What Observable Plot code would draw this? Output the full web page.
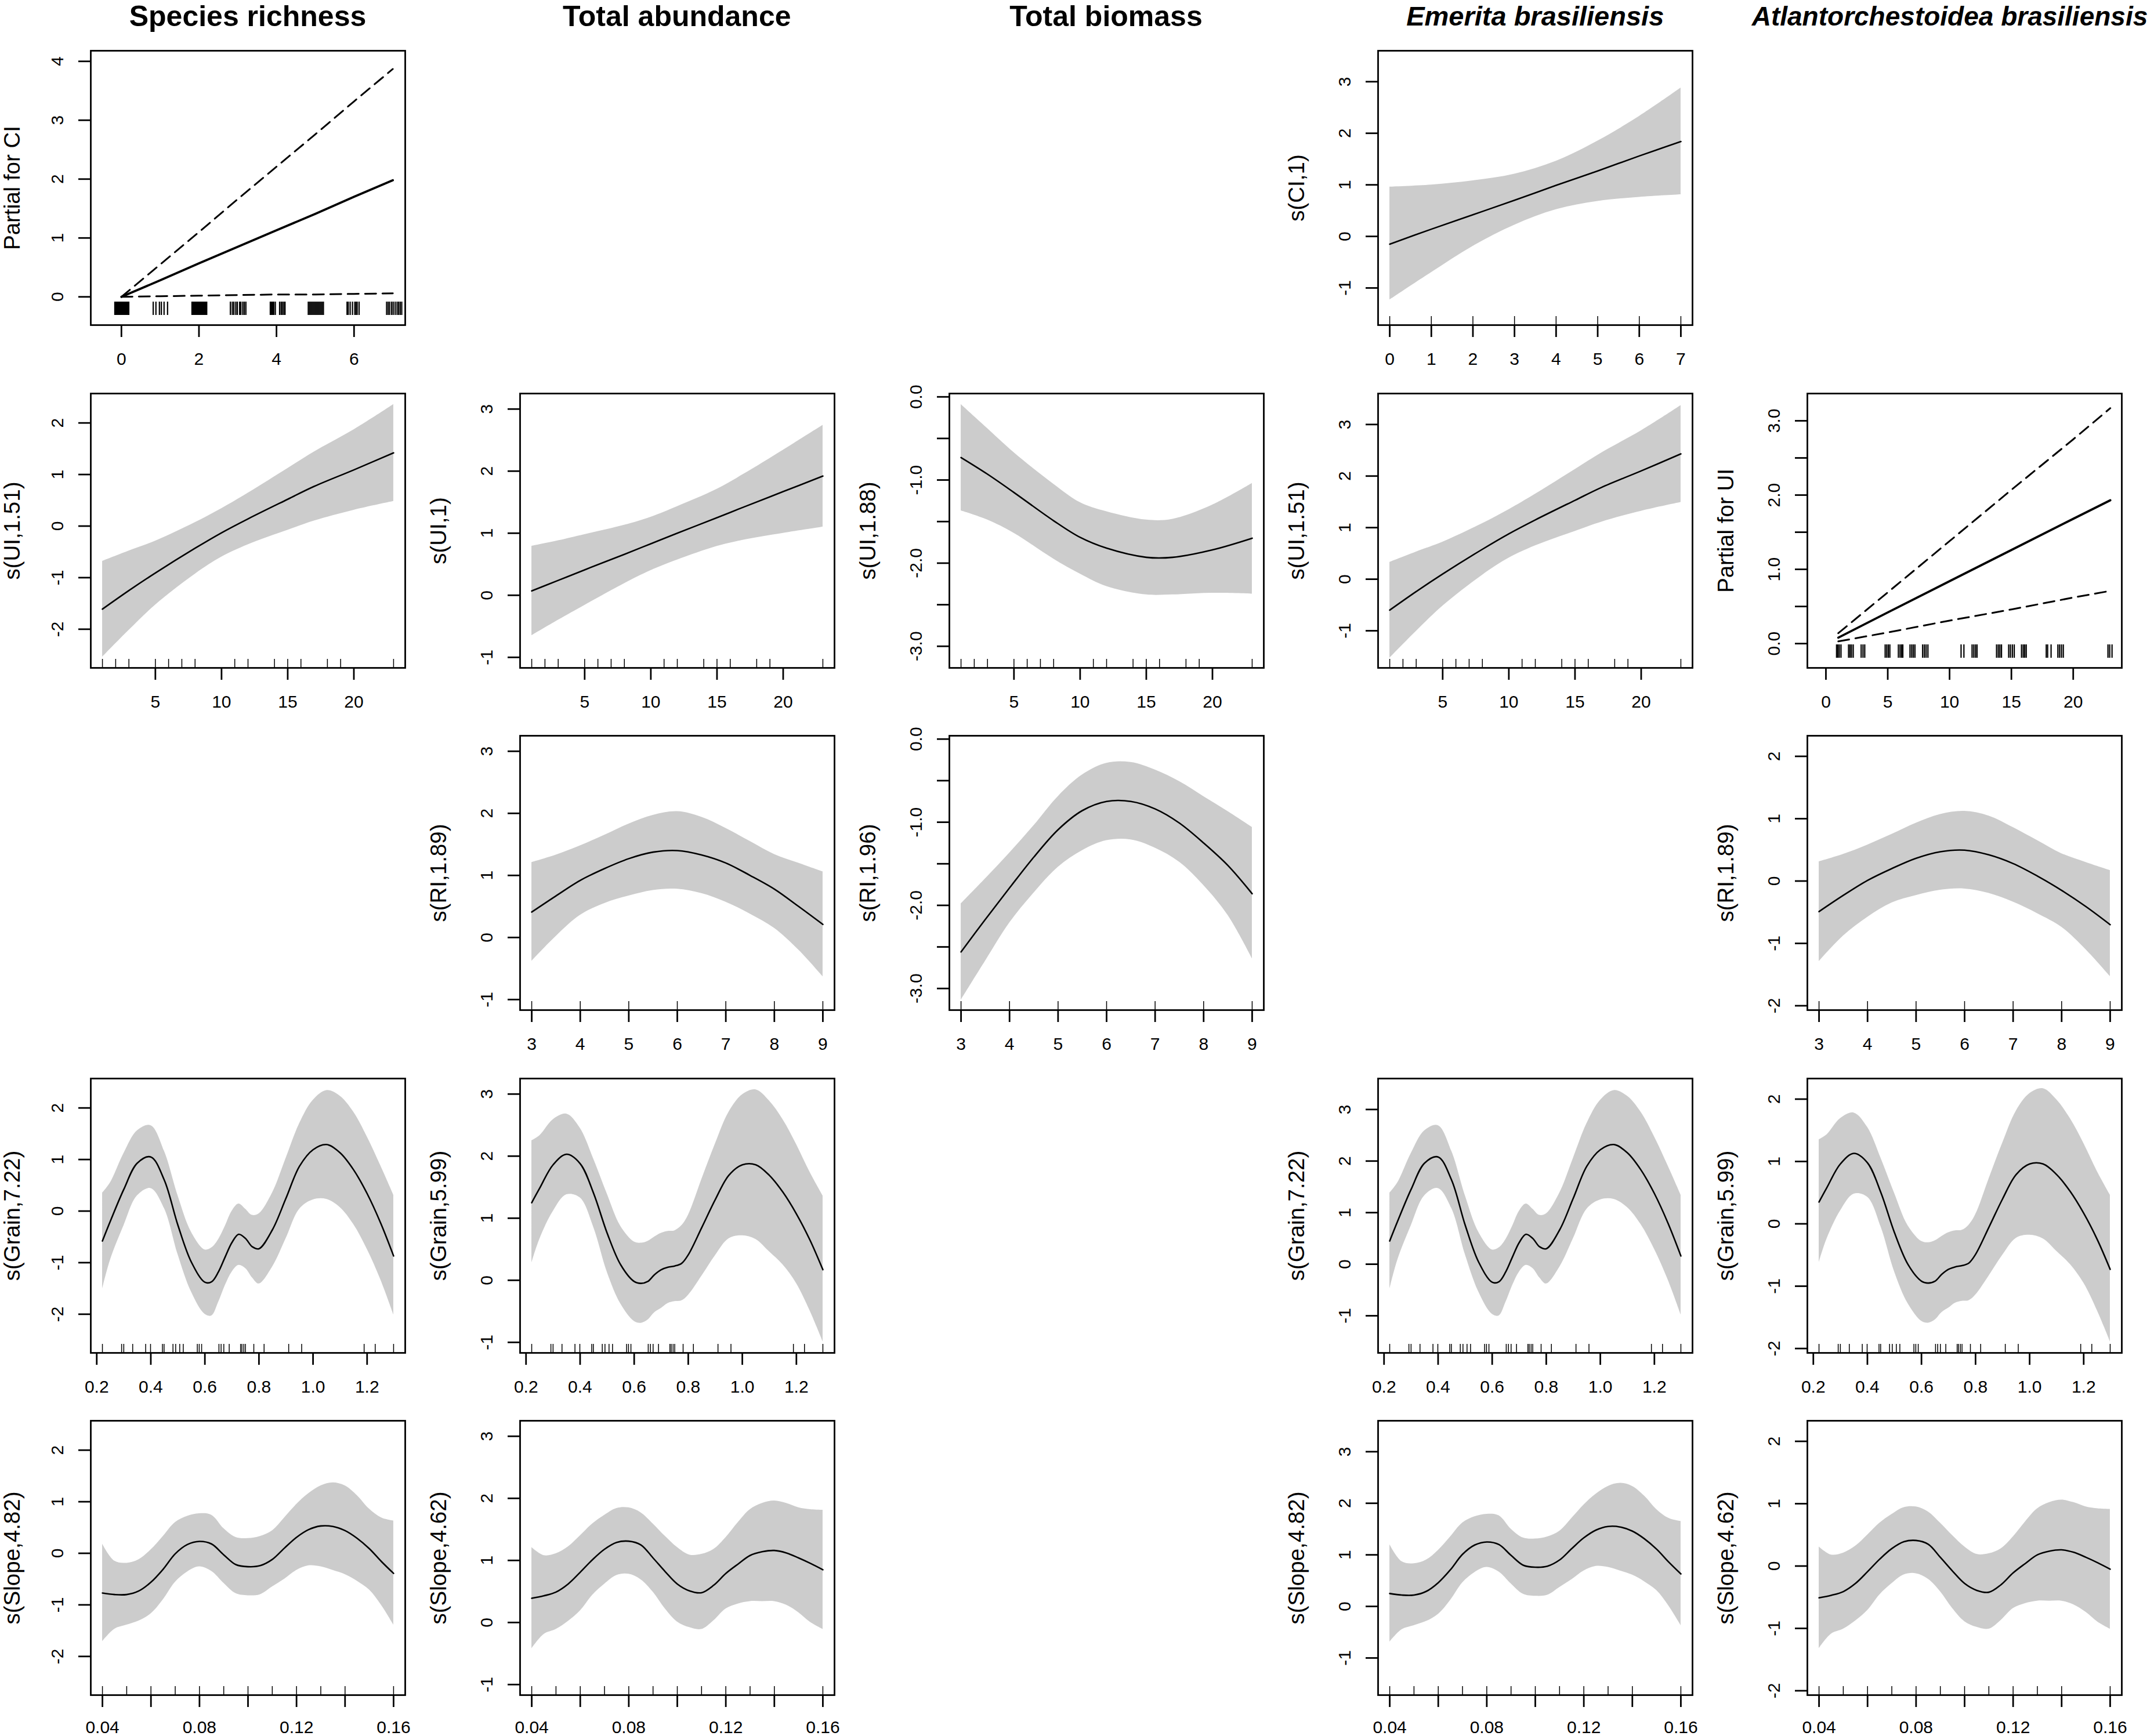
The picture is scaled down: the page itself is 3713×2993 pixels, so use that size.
<!DOCTYPE html>
<html>
<head>
<meta charset="utf-8">
<script src="https://cdn.jsdelivr.net/npm/d3@7"></script>
<script src="https://cdn.jsdelivr.net/npm/@observablehq/plot@0.6"></script>
<style>
html, body { margin: 0; padding: 0; background: #fff; }
#page { position: relative; width: 3713px; height: 2993px; overflow: hidden; background: #fff;
        font-family: "Liberation Sans", Arial, sans-serif; color: #000; }
.title { position: absolute; top: 3px; width: 800px; text-align: center; font-weight: bold;
         font-size: 50px; line-height: 50px; white-space: nowrap; }
.title.it { font-style: italic; font-size: 47px; line-height: 50px; }
.title.it.long { font-size: 46px; }
.panel { position: absolute; width: 740px; height: 660px; }
.panel svg { max-width: none !important; }
</style>
</head>
<body>
<div id="page"></div>
<script>
// ---------------- column titles ----------------
const columnTitles = ["Species richness", "Total abundance", "Total biomass", "Emerita brasiliensis", "Atlantorchestoidea brasiliensis"];
const columnItalic = [false, false, false, true, true];

// ---------------- x grids ----------------
const ciGrid = [0, 1, 2, 3, 4, 5, 6, 7];
const uiGrid = [1, 3, 5, 8, 10, 12, 15, 17, 20, 23];
const uiTermGrid = [1, 5, 10, 15, 20, 23];
const riGrid = [3, 3.5, 4, 4.5, 5, 5.5, 6, 6.5, 7, 7.5, 8, 8.5, 9];
const grainGrid = [0.221, 0.25, 0.3, 0.35, 0.4, 0.45, 0.5, 0.55, 0.6, 0.625, 0.65, 0.675, 0.7, 0.725, 0.75, 0.775, 0.8, 0.85, 0.9, 0.95, 1.0, 1.05, 1.1, 1.15, 1.2, 1.25, 1.298];
const slopeGrid = [0.04, 0.045, 0.05, 0.055, 0.06, 0.065, 0.07, 0.075, 0.08, 0.085, 0.09, 0.095, 0.1, 0.105, 0.11, 0.115, 0.12, 0.125, 0.13, 0.135, 0.14, 0.145, 0.15, 0.155, 0.16];

// ---------------- rugs ----------------
const uiRug = [1, 2, 3, 5, 6, 7, 8, 11, 12, 14, 15, 16, 18, 19, 23];
const riRug = [3, 4, 5, 6, 7, 8, 9];
const ciRug = [0, 1, 2, 3, 4, 5, 6, 7];
const grainRug = [0.221, 0.292, 0.300, 0.333, 0.381, 0.399, 0.443, 0.449, 0.482, 0.492, 0.507, 0.520, 0.572, 0.579, 0.588, 0.652, 0.660, 0.670, 0.690, 0.732, 0.737, 0.744, 0.750, 0.781, 0.819, 0.910, 0.958, 1.189, 1.230, 1.298];
const slopeRug = [0.04, 0.05, 0.06, 0.07, 0.08, 0.09, 0.10, 0.11, 0.12, 0.13, 0.14, 0.16];
// jittered rugs of the linear (termplot) panels
const richCIRug = [-0.17, -0.14, -0.11, -0.08, -0.05, -0.02, 0.01, 0.04, 0.07, 0.10, 0.13, 0.16, 0.19,
  0.82, 0.89, 0.98, 1.03, 1.10, 1.19,
  1.82, 1.85, 1.88, 1.91, 1.94, 1.97, 2.00, 2.03, 2.06, 2.09, 2.12, 2.15, 2.18, 2.20,
  2.81, 2.86, 2.90, 2.95, 2.99, 3.05, 3.08, 3.13, 3.17, 3.21,
  3.84, 3.87, 3.90, 3.93, 3.97, 4.08, 4.12, 4.15, 4.19, 4.22,
  4.82, 4.85, 4.88, 4.91, 4.94, 4.97, 5.00, 5.03, 5.06, 5.09, 5.12, 5.15, 5.18, 5.21,
  5.82, 5.85, 5.90, 5.96, 6.02, 6.05, 6.08, 6.13,
  6.84, 6.88, 6.92, 6.97, 7.01, 7.06, 7.11, 7.15, 7.19, 7.23];
const atlUIRug = [0.86, 0.97, 1.08, 1.22, 1.83, 1.95, 2.07, 2.21, 2.85, 3.0, 3.14,
  4.79, 4.92, 5.05, 5.17, 5.86, 6.0, 6.12, 6.22, 6.8, 6.94, 7.07, 7.2, 7.82, 7.96, 8.1, 8.25,
  10.93, 11.16, 11.82, 11.96, 12.1, 12.22, 13.8, 13.94, 14.07, 14.2, 14.78, 14.92, 15.08, 15.23,
  15.82, 15.96, 16.08, 16.2, 17.82, 17.93, 18.21, 18.76, 18.9, 19.05, 19.2, 22.81, 22.95, 23.14];

// ---------------- x / y scales ----------------
const ciTermXDomain = [-0.79, 7.32];
const ciXDomain = [-0.28, 7.28];
const uiXDomain = [0.12, 23.88];
const uiTermXDomain = [-1.5, 23.93];
const riXDomain = [2.76, 9.24];
const grainXDomain = [0.178, 1.341];
const slopeXDomain = [0.0352, 0.1648];

const richYDomain = [-2.75, 2.57];
const richTermYDomain = [-0.48, 4.18];
const abunYDomain = [-1.17, 3.25];
const bioYDomain = [-3.26, 0.04];
const emeYDomain = [-1.72, 3.60];
const atlTermYDomain = [-0.327, 3.367];
const atlYDomain = [-2.07, 2.33];

// ---------------- tick values ----------------
const ciTermTicks = [0, 2, 4, 6];
const ciTicks = [0, 1, 2, 3, 4, 5, 6, 7];
const uiTicks = [5, 10, 15, 20];
const uiTermTicks = [0, 5, 10, 15, 20];
const riTicks = [3, 4, 5, 6, 7, 8, 9];
const grainTicks = [0.2, 0.4, 0.6, 0.8, 1.0, 1.2];
const slopeTicks = [0.04, 0.06, 0.08, 0.10, 0.12, 0.14, 0.16];
const slopeLabelled = [0.04, 0.08, 0.12, 0.16];
const yTicks2 = [-2, -1, 0, 1, 2];
const yTicks3 = [-1, 0, 1, 2, 3];
const yTicks04 = [0, 1, 2, 3, 4];
const bioYTicks = [-3, -2.5, -2, -1.5, -1, -0.5, 0];
const atlTermYTicks = [0, 0.5, 1, 1.5, 2, 2.5, 3];

// ---------------- Species richness ----------------
const richCIFit = [0, 0.28, 0.57, 0.85, 1.13, 1.41, 1.70, 1.98];
const richCIUpper = [0, 0.55, 1.10, 1.66, 2.21, 2.76, 3.32, 3.87];
const richCILower = [0, 0.01, 0.02, 0.03, 0.04, 0.04, 0.05, 0.06];

const richUIFit = [-1.61, -1.25, -0.91, -0.43, -0.13, 0.14, 0.52, 0.77, 1.09, 1.42];
const richUIHi = [-0.68, -0.48, -0.29, 0.07, 0.34, 0.64, 1.12, 1.44, 1.87, 2.36];
const richUILo = [-2.54, -2.02, -1.53, -0.93, -0.60, -0.36, -0.08, 0.10, 0.31, 0.48];

const richGrainFit = [-0.58, -0.20, 0.42, 0.93, 1.05, 0.60, -0.27, -0.99, -1.38, -1.37, -1.18, -0.89, -0.61, -0.45, -0.53, -0.69, -0.73, -0.36, 0.25, 0.87, 1.19, 1.29, 1.13, 0.80, 0.34, -0.23, -0.87];
const richGrainHi = [0.35, 0.55, 1.12, 1.56, 1.66, 1.16, 0.30, -0.41, -0.75, -0.71, -0.55, -0.29, 0.00, 0.14, 0.04, -0.08, -0.05, 0.36, 1.03, 1.70, 2.15, 2.34, 2.23, 1.92, 1.44, 0.88, 0.31];
const richGrainLo = [-1.51, -0.95, -0.28, 0.30, 0.44, 0.05, -0.84, -1.57, -2.00, -2.03, -1.77, -1.44, -1.18, -1.05, -1.11, -1.29, -1.41, -1.08, -0.53, 0.04, 0.22, 0.23, 0.07, -0.26, -0.74, -1.33, -2.01];

const richSlopeFit = [-0.77, -0.80, -0.80, -0.73, -0.56, -0.31, -0.01, 0.17, 0.23, 0.18, -0.03, -0.22, -0.26, -0.24, -0.12, 0.10, 0.31, 0.46, 0.53, 0.52, 0.44, 0.29, 0.09, -0.16, -0.39];
const richSlopeHi = [0.18, -0.15, -0.19, -0.12, 0.07, 0.33, 0.60, 0.72, 0.77, 0.74, 0.48, 0.31, 0.29, 0.33, 0.44, 0.69, 0.95, 1.16, 1.31, 1.37, 1.31, 1.12, 0.86, 0.69, 0.63];
const richSlopeLo = [-1.71, -1.47, -1.39, -1.31, -1.17, -0.90, -0.56, -0.36, -0.26, -0.35, -0.58, -0.78, -0.82, -0.80, -0.65, -0.50, -0.33, -0.24, -0.26, -0.33, -0.41, -0.54, -0.71, -1.01, -1.39];

// ---------------- Total abundance ----------------
const abunUIFit = [0.07, 0.24, 0.41, 0.66, 0.83, 1.00, 1.25, 1.42, 1.67, 1.92];
const abunUIHi = [0.79, 0.88, 0.98, 1.13, 1.26, 1.43, 1.71, 1.95, 2.34, 2.74];
const abunUILo = [-0.65, -0.40, -0.16, 0.19, 0.40, 0.57, 0.79, 0.89, 1.00, 1.10];

const abunRIFit = [0.41, 0.67, 0.92, 1.11, 1.27, 1.375, 1.40, 1.33, 1.20, 1.00, 0.78, 0.50, 0.21];
const abunRIHi = [1.21, 1.33, 1.48, 1.65, 1.83, 1.97, 2.03, 1.94, 1.76, 1.55, 1.34, 1.20, 1.06];
const abunRILo = [-0.38, 0.02, 0.36, 0.55, 0.67, 0.76, 0.78, 0.71, 0.57, 0.38, 0.15, -0.20, -0.63];

const abunGrainFit = [1.25, 1.48, 1.86, 2.03, 1.88, 1.40, 0.76, 0.25, -0.02, -0.05, -0.02, 0.09, 0.17, 0.21, 0.23, 0.27, 0.41, 0.85, 1.30, 1.69, 1.86, 1.86, 1.69, 1.42, 1.07, 0.65, 0.17];
const abunGrainHi = [2.25, 2.33, 2.59, 2.68, 2.45, 1.95, 1.39, 0.87, 0.62, 0.60, 0.63, 0.70, 0.76, 0.79, 0.80, 0.88, 1.05, 1.63, 2.20, 2.71, 2.99, 3.07, 2.89, 2.59, 2.19, 1.74, 1.36];
const abunGrainLo = [0.28, 0.66, 1.11, 1.38, 1.33, 0.85, 0.13, -0.38, -0.66, -0.69, -0.64, -0.52, -0.45, -0.37, -0.34, -0.33, -0.24, 0.07, 0.40, 0.67, 0.72, 0.66, 0.46, 0.25, -0.05, -0.49, -0.99];

const abunSlopeFit = [0.39, 0.43, 0.49, 0.62, 0.81, 1.01, 1.18, 1.29, 1.31, 1.25, 1.04, 0.82, 0.62, 0.51, 0.48, 0.60, 0.79, 0.94, 1.08, 1.14, 1.16, 1.12, 1.04, 0.95, 0.85];
const abunSlopeHi = [1.21, 1.08, 1.11, 1.22, 1.40, 1.59, 1.73, 1.84, 1.85, 1.77, 1.59, 1.39, 1.21, 1.09, 1.10, 1.18, 1.37, 1.61, 1.82, 1.92, 1.96, 1.92, 1.85, 1.82, 1.81];
const abunSlopeLo = [-0.42, -0.19, -0.11, 0.02, 0.19, 0.44, 0.62, 0.76, 0.78, 0.69, 0.49, 0.22, 0.01, -0.08, -0.11, 0.03, 0.22, 0.30, 0.34, 0.34, 0.34, 0.28, 0.16, 0.00, -0.11];

// ---------------- Total biomass ----------------
const bioUIFit = [-0.73, -0.93, -1.15, -1.49, -1.69, -1.82, -1.93, -1.93, -1.84, -1.70];
const bioUIHi = [-0.09, -0.38, -0.67, -1.05, -1.27, -1.38, -1.48, -1.47, -1.30, -1.04];
const bioUILo = [-1.37, -1.48, -1.64, -1.95, -2.13, -2.28, -2.38, -2.38, -2.36, -2.37];

const bioRIFit = [-2.56, -2.17, -1.79, -1.42, -1.09, -0.86, -0.75, -0.75, -0.84, -1.01, -1.25, -1.52, -1.86];
const bioRIHi = [-1.98, -1.68, -1.37, -1.04, -0.69, -0.43, -0.29, -0.28, -0.37, -0.51, -0.69, -0.87, -1.06];
const bioRILo = [-3.14, -2.67, -2.21, -1.85, -1.54, -1.34, -1.22, -1.21, -1.31, -1.48, -1.76, -2.12, -2.64];

// ---------------- Emerita brasiliensis ----------------
const emeCIFit = [-0.15, 0.14, 0.42, 0.70, 0.99, 1.27, 1.56, 1.84];
const emeCIHi = [0.96, 1.00, 1.08, 1.21, 1.46, 1.85, 2.33, 2.88];
const emeCILo = [-1.23, -0.70, -0.19, 0.22, 0.52, 0.68, 0.76, 0.81];

const emeUIFit = [-0.60, -0.24, 0.10, 0.58, 0.88, 1.15, 1.53, 1.78, 2.10, 2.43];
const emeUIHi = [0.33, 0.53, 0.72, 1.08, 1.35, 1.65, 2.13, 2.45, 2.88, 3.37];
const emeUILo = [-1.53, -1.01, -0.52, 0.08, 0.41, 0.65, 0.93, 1.11, 1.32, 1.49];

const emeGrainFit = [0.45, 0.83, 1.45, 1.96, 2.08, 1.63, 0.76, 0.04, -0.35, -0.34, -0.15, 0.14, 0.42, 0.58, 0.50, 0.34, 0.30, 0.67, 1.28, 1.90, 2.22, 2.32, 2.16, 1.83, 1.37, 0.80, 0.16];
const emeGrainHi = [1.38, 1.58, 2.15, 2.59, 2.69, 2.19, 1.33, 0.62, 0.28, 0.32, 0.48, 0.74, 1.03, 1.17, 1.07, 0.95, 0.98, 1.39, 2.06, 2.73, 3.18, 3.37, 3.26, 2.95, 2.47, 1.91, 1.34];
const emeGrainLo = [-0.48, 0.08, 0.75, 1.33, 1.47, 1.08, 0.19, -0.54, -0.97, -1.00, -0.74, -0.41, -0.15, -0.02, -0.08, -0.26, -0.38, -0.05, 0.50, 1.07, 1.25, 1.26, 1.10, 0.77, 0.29, -0.30, -0.98];

const emeSlopeFit = [0.25, 0.22, 0.22, 0.29, 0.46, 0.71, 1.01, 1.19, 1.25, 1.20, 0.99, 0.80, 0.76, 0.78, 0.90, 1.12, 1.33, 1.48, 1.55, 1.54, 1.46, 1.31, 1.11, 0.86, 0.63];
const emeSlopeHi = [1.20, 0.87, 0.83, 0.90, 1.09, 1.35, 1.62, 1.74, 1.79, 1.76, 1.50, 1.33, 1.31, 1.35, 1.46, 1.71, 1.97, 2.18, 2.33, 2.39, 2.33, 2.14, 1.88, 1.71, 1.65];
const emeSlopeLo = [-0.69, -0.45, -0.37, -0.29, -0.15, 0.12, 0.46, 0.66, 0.76, 0.67, 0.44, 0.24, 0.20, 0.22, 0.37, 0.52, 0.69, 0.78, 0.76, 0.69, 0.61, 0.48, 0.31, 0.01, -0.37];

// ---------------- Atlantorchestoidea brasiliensis ----------------
const atlUIFit = [0.08, 0.42, 0.84, 1.26, 1.68, 1.93];
const atlUIUpper = [0.14, 0.69, 1.38, 2.07, 2.75, 3.17];
const atlUILower = [0.03, 0.15, 0.31, 0.46, 0.62, 0.71];

const atlRIFit = [-0.49, -0.23, 0.01, 0.20, 0.365, 0.47, 0.495, 0.42, 0.28, 0.08, -0.15, -0.41, -0.70];
const atlRIHi = [0.31, 0.43, 0.58, 0.75, 0.93, 1.07, 1.12, 1.045, 0.86, 0.65, 0.44, 0.30, 0.17];
const atlRILo = [-1.29, -0.88, -0.58, -0.35, -0.23, -0.145, -0.125, -0.195, -0.335, -0.52, -0.74, -1.10, -1.53];

const atlGrainFit = [0.35, 0.58, 0.96, 1.13, 0.98, 0.50, -0.14, -0.65, -0.92, -0.95, -0.92, -0.81, -0.73, -0.69, -0.67, -0.63, -0.49, -0.05, 0.40, 0.79, 0.96, 0.96, 0.79, 0.52, 0.17, -0.25, -0.73];
const atlGrainHi = [1.35, 1.43, 1.69, 1.78, 1.55, 1.05, 0.49, -0.03, -0.28, -0.30, -0.27, -0.20, -0.14, -0.11, -0.10, -0.02, 0.15, 0.73, 1.30, 1.81, 2.09, 2.17, 1.99, 1.69, 1.29, 0.84, 0.46];
const atlGrainLo = [-0.62, -0.24, 0.21, 0.48, 0.43, -0.05, -0.77, -1.28, -1.56, -1.59, -1.54, -1.42, -1.35, -1.27, -1.24, -1.23, -1.14, -0.83, -0.50, -0.23, -0.18, -0.24, -0.44, -0.65, -0.95, -1.39, -1.89];

const atlSlopeFit = [-0.51, -0.47, -0.41, -0.28, -0.09, 0.11, 0.28, 0.39, 0.41, 0.35, 0.14, -0.08, -0.28, -0.39, -0.42, -0.30, -0.11, 0.04, 0.18, 0.24, 0.26, 0.22, 0.14, 0.05, -0.05];
const atlSlopeHi = [0.31, 0.18, 0.21, 0.32, 0.50, 0.69, 0.83, 0.94, 0.95, 0.87, 0.69, 0.49, 0.31, 0.19, 0.20, 0.28, 0.47, 0.71, 0.92, 1.02, 1.06, 1.02, 0.95, 0.92, 0.91];
const atlSlopeLo = [-1.32, -1.09, -1.01, -0.88, -0.71, -0.46, -0.28, -0.14, -0.12, -0.21, -0.41, -0.68, -0.89, -0.98, -1.01, -0.87, -0.68, -0.60, -0.56, -0.56, -0.56, -0.62, -0.74, -0.90, -1.01];

// ---------------- formats ----------------
const fmtInt = d => String(d);
const fmtOneDecimalInts = d => Number.isInteger(d) ? d.toFixed(1) : "";
const fmtGrain = d => d.toFixed(1);
const fmtSlope = d => slopeLabelled.some(v => Math.abs(v - d) < 1e-9) ? d.toFixed(2) : "";

// ---------------- panel list ----------------
const panels = [
  {c: 0, r: 0, kind: "term", ylab: "Partial for CI", xd: ciTermXDomain, yd: richTermYDomain, xt: ciTermTicks, xf: fmtInt, yt: yTicks04, yf: fmtInt, grid: ciGrid, fit: richCIFit, hi: richCIUpper, lo: richCILower, rug: richCIRug},
  {c: 0, r: 1, kind: "s", ylab: "s(UI,1.51)", xd: uiXDomain, yd: richYDomain, xt: uiTicks, xf: fmtInt, yt: yTicks2, yf: fmtInt, grid: uiGrid, fit: richUIFit, hi: richUIHi, lo: richUILo, rug: uiRug},
  {c: 0, r: 3, kind: "s", ylab: "s(Grain,7.22)", xd: grainXDomain, yd: richYDomain, xt: grainTicks, xf: fmtGrain, yt: yTicks2, yf: fmtInt, grid: grainGrid, fit: richGrainFit, hi: richGrainHi, lo: richGrainLo, rug: grainRug},
  {c: 0, r: 4, kind: "s", ylab: "s(Slope,4.82)", xd: slopeXDomain, yd: richYDomain, xt: slopeTicks, xf: fmtSlope, yt: yTicks2, yf: fmtInt, grid: slopeGrid, fit: richSlopeFit, hi: richSlopeHi, lo: richSlopeLo, rug: slopeRug},

  {c: 1, r: 1, kind: "s", ylab: "s(UI,1)", xd: uiXDomain, yd: abunYDomain, xt: uiTicks, xf: fmtInt, yt: yTicks3, yf: fmtInt, grid: uiGrid, fit: abunUIFit, hi: abunUIHi, lo: abunUILo, rug: uiRug},
  {c: 1, r: 2, kind: "s", ylab: "s(RI,1.89)", xd: riXDomain, yd: abunYDomain, xt: riTicks, xf: fmtInt, yt: yTicks3, yf: fmtInt, grid: riGrid, fit: abunRIFit, hi: abunRIHi, lo: abunRILo, rug: riRug},
  {c: 1, r: 3, kind: "s", ylab: "s(Grain,5.99)", xd: grainXDomain, yd: abunYDomain, xt: grainTicks, xf: fmtGrain, yt: yTicks3, yf: fmtInt, grid: grainGrid, fit: abunGrainFit, hi: abunGrainHi, lo: abunGrainLo, rug: grainRug},
  {c: 1, r: 4, kind: "s", ylab: "s(Slope,4.62)", xd: slopeXDomain, yd: abunYDomain, xt: slopeTicks, xf: fmtSlope, yt: yTicks3, yf: fmtInt, grid: slopeGrid, fit: abunSlopeFit, hi: abunSlopeHi, lo: abunSlopeLo, rug: slopeRug},

  {c: 2, r: 1, kind: "s", ylab: "s(UI,1.88)", xd: uiXDomain, yd: bioYDomain, xt: uiTicks, xf: fmtInt, yt: bioYTicks, yf: fmtOneDecimalInts, grid: uiGrid, fit: bioUIFit, hi: bioUIHi, lo: bioUILo, rug: uiRug},
  {c: 2, r: 2, kind: "s", ylab: "s(RI,1.96)", xd: riXDomain, yd: bioYDomain, xt: riTicks, xf: fmtInt, yt: bioYTicks, yf: fmtOneDecimalInts, grid: riGrid, fit: bioRIFit, hi: bioRIHi, lo: bioRILo, rug: riRug},

  {c: 3, r: 0, kind: "s", ylab: "s(CI,1)", xd: ciXDomain, yd: emeYDomain, xt: ciTicks, xf: fmtInt, yt: yTicks3, yf: fmtInt, grid: ciGrid, fit: emeCIFit, hi: emeCIHi, lo: emeCILo, rug: ciRug},
  {c: 3, r: 1, kind: "s", ylab: "s(UI,1.51)", xd: uiXDomain, yd: emeYDomain, xt: uiTicks, xf: fmtInt, yt: yTicks3, yf: fmtInt, grid: uiGrid, fit: emeUIFit, hi: emeUIHi, lo: emeUILo, rug: uiRug},
  {c: 3, r: 3, kind: "s", ylab: "s(Grain,7.22)", xd: grainXDomain, yd: emeYDomain, xt: grainTicks, xf: fmtGrain, yt: yTicks3, yf: fmtInt, grid: grainGrid, fit: emeGrainFit, hi: emeGrainHi, lo: emeGrainLo, rug: grainRug},
  {c: 3, r: 4, kind: "s", ylab: "s(Slope,4.82)", xd: slopeXDomain, yd: emeYDomain, xt: slopeTicks, xf: fmtSlope, yt: yTicks3, yf: fmtInt, grid: slopeGrid, fit: emeSlopeFit, hi: emeSlopeHi, lo: emeSlopeLo, rug: slopeRug},

  {c: 4, r: 1, kind: "term", ylab: "Partial for UI", xd: uiTermXDomain, yd: atlTermYDomain, xt: uiTermTicks, xf: fmtInt, yt: atlTermYTicks, yf: fmtOneDecimalInts, grid: uiTermGrid, fit: atlUIFit, hi: atlUIUpper, lo: atlUILower, rug: atlUIRug},
  {c: 4, r: 2, kind: "s", ylab: "s(RI,1.89)", xd: riXDomain, yd: atlYDomain, xt: riTicks, xf: fmtInt, yt: yTicks2, yf: fmtInt, grid: riGrid, fit: atlRIFit, hi: atlRIHi, lo: atlRILo, rug: riRug},
  {c: 4, r: 3, kind: "s", ylab: "s(Grain,5.99)", xd: grainXDomain, yd: atlYDomain, xt: grainTicks, xf: fmtGrain, yt: yTicks2, yf: fmtInt, grid: grainGrid, fit: atlGrainFit, hi: atlGrainHi, lo: atlGrainLo, rug: grainRug},
  {c: 4, r: 4, kind: "s", ylab: "s(Slope,4.62)", xd: slopeXDomain, yd: atlYDomain, xt: slopeTicks, xf: fmtSlope, yt: yTicks2, yf: fmtInt, grid: slopeGrid, fit: atlSlopeFit, hi: atlSlopeHi, lo: atlSlopeLo, rug: slopeRug}
];

// ---------------- layout ----------------
const W = 740, H = 660, ML = 156, MT = 87, MR = 42, MB = 100;
const PW = W - ML - MR, PH = H - MT - MB;   // plot box 542 x 473
const COLSTEP = 739.75, ROWSTEP = 590.5;
const FONT = "'Liberation Sans', Arial, Helvetica, sans-serif";
const page = document.getElementById("page");

columnTitles.forEach((t, c) => {
  const div = document.createElement("div");
  const isLong = c === 4;
  div.className = "title" + (columnItalic[c] ? " it" : "") + (isLong ? " long" : "");
  div.style.left = (COLSTEP * c + ML + PW / 2 - 400 - (isLong ? 25 : 0)) + "px";
  div.textContent = t;
  page.appendChild(div);
});

function makePanel(p) {
  const data = p.grid.map((x, i) => ({x, fit: p.fit[i], hi: p.hi[i], lo: p.lo[i]}));
  const marks = [];
  if (p.kind === "s") {
    marks.push(
      Plot.areaY(data, {x: "x", y1: "lo", y2: "hi", fill: "#cccccc", curve: "catmull-rom"}),
      Plot.line(data, {x: "x", y: "fit", stroke: "#000", strokeWidth: 2.6, curve: "catmull-rom"}),
      Plot.ruleX(p.rug, {x: d => d, insetTop: PH - 15, stroke: "#000", strokeWidth: 1.5})
    );
  } else {
    marks.push(
      Plot.ruleX(p.rug, {x: d => d, insetTop: 433, insetBottom: 17, stroke: "#000", strokeWidth: 2.2}),
      Plot.line(data, {x: "x", y: "hi", stroke: "#000", strokeWidth: 3, strokeDasharray: "19,11"}),
      Plot.line(data, {x: "x", y: "lo", stroke: "#000", strokeWidth: 3, strokeDasharray: "19,11"}),
      Plot.line(data, {x: "x", y: "fit", stroke: "#000", strokeWidth: 3.8})
    );
  }
  const labelGap = p.r === 4 ? 44 : 47;
  const titleDx = p.c === 0 ? -135 : -140;
  marks.push(
    Plot.frame({stroke: "#000", strokeWidth: 2.8}),
    Plot.ruleX(p.xt, {x: d => d, insetTop: PH, insetBottom: -21, stroke: "#000", strokeWidth: 2.8}),
    Plot.ruleY(p.yt, {y: d => d, insetLeft: -21, insetRight: PW, stroke: "#000", strokeWidth: 2.8}),
    Plot.text(p.xt, {x: d => d, text: p.xf, frameAnchor: "bottom", dy: labelGap, lineAnchor: "top", fontSize: 30, fill: "#000"}),
    Plot.text(p.yt, {y: d => d, text: p.yf, frameAnchor: "left", dx: -57, rotate: -90, textAnchor: "middle", lineAnchor: "middle", fontSize: 30, fill: "#000"}),
    Plot.text([p.ylab], {text: d => d, frameAnchor: "left", dx: titleDx, rotate: -90, textAnchor: "middle", lineAnchor: "middle", fontSize: 38.5, fill: "#000"})
  );
  const svg = Plot.plot({
    width: W, height: H,
    marginTop: MT, marginLeft: ML, marginRight: MR, marginBottom: MB,
    x: {domain: p.xd, axis: null},
    y: {domain: p.yd, axis: null},
    style: {fontFamily: FONT, background: "transparent", overflow: "visible", color: "#000"},
    marks
  });
  const div = document.createElement("div");
  div.className = "panel";
  div.style.left = (COLSTEP * p.c) + "px";
  div.style.top = (ROWSTEP * p.r) + "px";
  div.appendChild(svg);
  page.appendChild(div);
}

panels.forEach(makePanel);
</script>
</body>
</html>
